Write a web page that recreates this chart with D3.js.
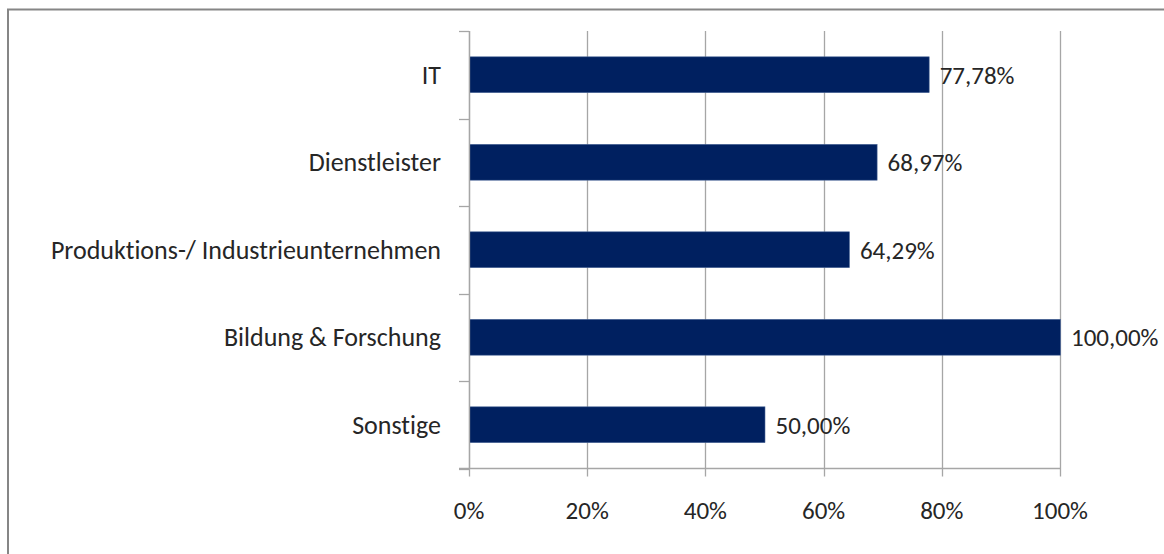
<!DOCTYPE html>
<html><head><meta charset="utf-8">
<script src="https://cdn.jsdelivr.net/npm/d3@7"></script>
<style>body{margin:0;background:#fff}svg{display:block}text{font-family:Carlito,Lato,"Open Sans",sans-serif;font-variant-ligatures:none;font-feature-settings:"liga" 0}</style>
</head><body><svg id="c" width="1164" height="554"></svg>
<script>
const categories = ["IT","Dienstleister","Produktions-/ Industrieunternehmen","Bildung & Forschung","Sonstige"];
const values = [77.78, 68.97, 64.29, 100.00, 50.00];
const tickValues = [0,20,40,60,80,100];
const tickLabels = ["0%","20%","40%","60%","80%","100%"];

const svg = d3.select("#c");
svg.append("rect").attr("x",8).attr("y",9.5).attr("width",1200).attr("height",600)
  .attr("fill","#fff").attr("stroke","#868686").attr("stroke-width",2);

const pL=469, pR=1060, pT=31, pB=468.5;
const FS = 25;
const x = d3.scaleLinear().domain([0,100]).range([pL,pR]);
const y = d3.scaleBand().domain(categories).range([pT,pB]).paddingInner(0.59).paddingOuter(0.295);
const yb = d3.scaleBand().domain(categories).range([pT,pB]);

// gridlines
svg.append("g").selectAll("line").data(tickValues).join("line")
  .attr("x1",d=>Math.round(x(d))+0.5).attr("x2",d=>Math.round(x(d))+0.5)
  .attr("y1",pT).attr("y2",pB+8).attr("stroke","#a6a6a6").attr("stroke-width",1.3);

// bars
svg.append("g").selectAll("rect").data(values).join("rect")
  .attr("x",x(0)+0.5).attr("y",(d,i)=>y(categories[i]))
  .attr("width",d=>x(d)-x(0)).attr("height",y.bandwidth())
  .attr("fill","#002060").attr("stroke","#4f6a9a").attr("stroke-width",0.6);

// y axis line and ticks
svg.append("line").attr("x1",pL+0.5).attr("x2",pL+0.5).attr("y1",pT).attr("y2",pB)
  .attr("stroke","#a6a6a6").attr("stroke-width",1.3);
const bounds = categories.map(c=>yb(c)).concat([pB]);
svg.append("g").selectAll("line").data(bounds).join("line")
  .attr("x1",pL-10).attr("x2",pL).attr("y1",d=>Math.round(d)+0.5).attr("y2",d=>Math.round(d)+0.5)
  .attr("stroke","#a6a6a6").attr("stroke-width",1.3);
// x axis line
svg.append("line").attr("x1",pL-10).attr("x2",pR+0.5).attr("y1",pB).attr("y2",pB)
  .attr("stroke","#a6a6a6").attr("stroke-width",1.3);

// category labels
svg.append("g").selectAll("text").data(categories).join("text")
  .attr("x",441).attr("y",d=>y(d)+y.bandwidth()/2).attr("dy","0.35em")
  .attr("text-anchor","end").attr("font-size",26).attr("fill","#262626").text(d=>d);

// x tick labels
svg.append("g").selectAll("text").data(tickValues).join("text")
  .attr("x",d=>x(d)).attr("y",510).attr("dy","0.35em")
  .attr("text-anchor","middle").attr("font-size",FS).attr("fill","#262626")
  .text((d,i)=>tickLabels[i]);

// value labels
const fmt = v => v.toFixed(2).replace(".",",")+"%";
svg.append("g").selectAll("text").data(values).join("text")
  .attr("x",d=>x(d)+11).attr("y",(d,i)=>y(categories[i])+y.bandwidth()/2).attr("dy","0.35em")
  .attr("font-size",FS).attr("fill","#262626").text(d=>fmt(d));
</script></body></html>
